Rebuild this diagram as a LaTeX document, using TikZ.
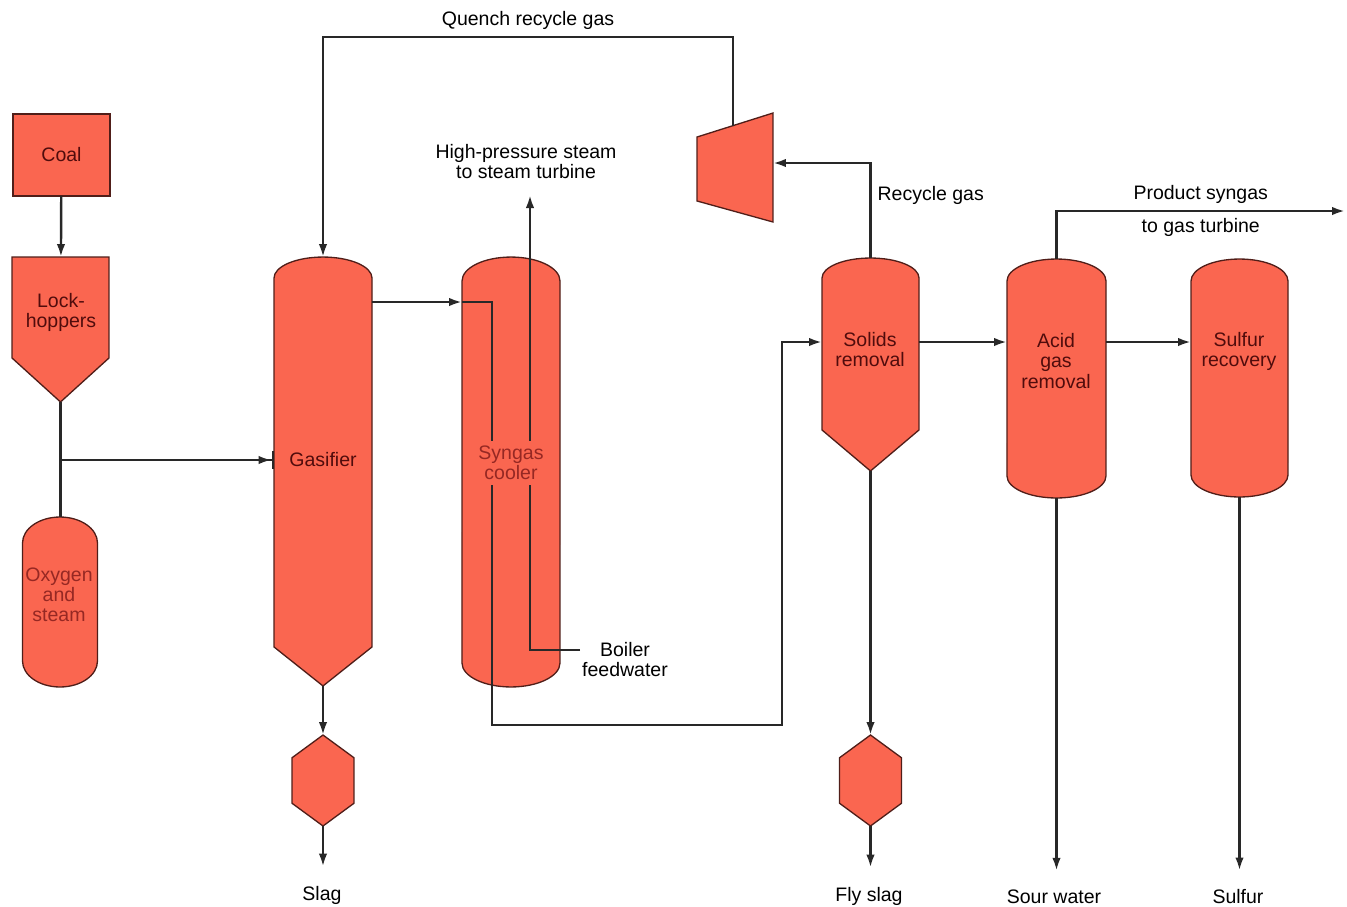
\documentclass[tikz,border=0pt]{standalone}
\usepackage{fontspec}
\setmainfont{Liberation Sans}
\usetikzlibrary{arrows.meta,calc}

\definecolor{unitfill}{RGB}{250,102,80}
\definecolor{unitline}{RGB}{80,30,25}
\definecolor{unittext}{RGB}{80,12,12}
\definecolor{faintext}{RGB}{150,40,35}
\definecolor{pipecolor}{RGB}{40,40,40}

% vessel outlines drawn from the box nodes: name, half width, cap (, cone)
\newcommand{\capsule}[3]{%
  \path[unitshape] ($(#1.north west)+(0,-#3)$) arc[start angle=180, end angle=0, x radius=#2, y radius=#3]
    -- ($(#1.south east)+(0,#3)$) arc[start angle=0, end angle=-180, x radius=#2, y radius=#3] -- cycle;}
\newcommand{\vessel}[4]{%
  \path[unitshape] ($(#1.north west)+(0,-#3)$) arc[start angle=180, end angle=0, x radius=#2, y radius=#3]
    -- ($(#1.south east)+(0,#4)$) -- (#1.south) -- ($(#1.south west)+(0,#4)$) -- cycle;}
\newcommand{\hexdrum}[1]{%
  \path[unitshape] (#1.north) -- ($(#1.north east)!0.25!(#1.south east)$) -- ($(#1.north east)!0.75!(#1.south east)$)
    -- (#1.south) -- ($(#1.north west)!0.75!(#1.south west)$) -- ($(#1.north west)!0.25!(#1.south west)$) -- cycle;}

\begin{document}
\begin{tikzpicture}[x=0.02cm, y=0.02cm, >={Latex[length=0.26cm,width=0.17cm]},
    font=\fontsize{11.1}{11.4}\selectfont,
    unitshape/.style={fill=unitfill, draw=unitline, line width=0.75pt},
    unitbox/.style={inner sep=0pt, outer sep=0pt},
    unittext/.style={text=unittext, align=center, inner sep=1pt},
    flowline/.style={draw=pipecolor, line width=1.4pt},
    flowtext/.style={align=center},
    outlet/.style={inner ysep=0.38cm}]
    \useasboundingbox (0,0) rectangle (1347,-907);

    % Define nodes
    \node[unitbox, unitshape, text=unittext, minimum width=1.94cm, minimum height=1.64cm] at (61.5,-155) (coal) {Coal};
    \node[unitbox, minimum width=1.94cm, minimum height=2.9cm] at (60.5,-329.5) (lock) {};
    \node[unitbox, minimum width=1.5cm, minimum height=3.4cm] at (60,-602) (oxygen) {};
    \node[unitbox, minimum width=1.96cm, minimum height=8.58cm] at (323,-471.5) (gasifier) {};
    \node[unitbox, minimum width=1.24cm, minimum height=1.82cm] at (323,-780.5) (slag drum) {};
    \node[unitbox, minimum width=1.96cm, minimum height=8.6cm] at (511,-472) (cooler) {};
    \node[unitbox, minimum width=1.52cm, minimum height=2.18cm] at (735,-167.5) (compressor) {};
    \node[unitbox, minimum width=1.94cm, minimum height=4.26cm] at (870.5,-364.5) (solids) {};
    \node[unitbox, minimum width=1.24cm, minimum height=1.82cm] at (870.5,-780.5) (fly drum) {};
    \node[unitbox, minimum width=1.98cm, minimum height=4.78cm] at (1056.5,-378.5) (acid) {};
    \node[unitbox, minimum width=1.94cm, minimum height=4.76cm] at (1239.5,-378) (sulfur) {};

    % Draw vessel outlines
    \path[unitshape] (lock.north west) -- (lock.north east) -- ($(lock.south east)+(0,44)$) -- (lock.south)
        -- ($(lock.south west)+(0,44)$) -- cycle;
    \capsule{oxygen}{37.5}{26}
    \vessel{gasifier}{49}{21}{39}
    \hexdrum{slag drum}
    \capsule{cooler}{49}{24}
    \path[unitshape] ($(compressor.north west)+(0,-24)$) -- (compressor.north east) -- (compressor.south east)
        -- ($(compressor.south west)+(0,21)$) -- cycle;
    \vessel{solids}{48.5}{20}{41}
    \hexdrum{fly drum}
    \capsule{acid}{49.5}{22}
    \capsule{sulfur}{48.5}{22}

    % Unit texts
    \node[unittext] at (61,-312) (lock text) {Lock-\\hoppers};
    \node[unittext, text=faintext] at (59,-595) (oxygen text) {Oxygen\\and\\steam};
    \node[unittext] at (323,-460) (gasifier text) {Gasifier};
    \node[unittext] at (870,-350) (solids text) {Solids\\removal};
    \node[unittext] at (1056,-361) (acid text) {Acid\\gas\\removal};
    \node[unittext] at (1239,-351) (sulfur text) {Sulfur\\recovery};

    % Stream labels
    \node[flowtext] at (526,-162) (steam label) {High-pressure steam\\to steam turbine};
    \node[flowtext, inner xsep=1pt] at (625,-660) (feedwater) {Boiler\\feedwater};
    \node[flowtext, outlet] at (322,-895) (slag) {Slag};
    \node[flowtext, outlet] at (869,-896) (fly slag) {Fly slag};
    \node[flowtext, outlet] at (1054,-897) (sour water) {Sour water};
    \node[flowtext, outlet] at (1238,-897) (sulfur out) {Sulfur};
    \coordinate (hp steam) at (530,-195);
    \coordinate (turbine) at (1345,-211);
    \coordinate (feed) at (lock.south |- 0,-460);
    \coordinate (quench) at ($(compressor.west |- 0,-137)!0.474!(compressor.north east)$);

    % Draw arrows
    \draw[flowline, ->] (coal) -- (lock);
    \draw[flowline] (lock.south) -- (lock.south |- oxygen.north);
    \draw[flowline, -{Latex[length=0.26cm,width=0.17cm]Bar[width=0.36cm,line width=1.4pt]}] (feed) -- (feed -| gasifier.west);
    \draw[flowline, ->] (quench) -- (quench |- 0,-37) -- node[above] {Quench recycle gas} (gasifier.north |- 0,-37) -- (gasifier.north);
    \draw[flowline, ->] (gasifier.south) -- (slag drum.north);
    \draw[flowline, ->] (slag drum.south) -- (slag drum.south |- slag.north);
    \draw[flowline, ->] (gasifier.east |- 0,-302) -- (cooler.west |- 0,-302);
    \draw[flowline, ->] (cooler.west |- 0,-302) -| (492,-725) -| (782,-342) -- (solids.west |- 0,-342);
    \draw[flowline, ->] (feedwater.west |- 0,-650) -| (hp steam);
    \draw[flowline, ->] (solids.north) -- node[right, pos=0.66] {Recycle gas} (solids.north |- 0,-163) -- (compressor.east |- 0,-163);
    \draw[flowline, ->] (solids.south) -- (fly drum.north);
    \draw[flowline, ->] (fly drum.south) -- (fly drum.south |- fly slag.north);
    \draw[flowline, ->] (solids.east |- 0,-342) -- (acid.west |- 0,-342);
    \draw[flowline, ->] (acid.east |- 0,-342) -- (sulfur.west |- 0,-342);
    \draw[flowline, ->] (acid.north) -- (acid.north |- turbine) -- node[above] {Product syngas} node[below] {to gas turbine} (turbine);
    \draw[flowline, ->] (acid.south) -- (acid.south |- sour water.north);
    \draw[flowline, ->] (sulfur.south) -- (sulfur.south |- sulfur out.north);

    % Cooler text over its tubes
    \node[unittext, text=faintext, fill=unitfill, inner xsep=0pt, inner ysep=3pt] at (511,-463) (cooler text) {Syngas\\cooler};
\end{tikzpicture}
\end{document}
